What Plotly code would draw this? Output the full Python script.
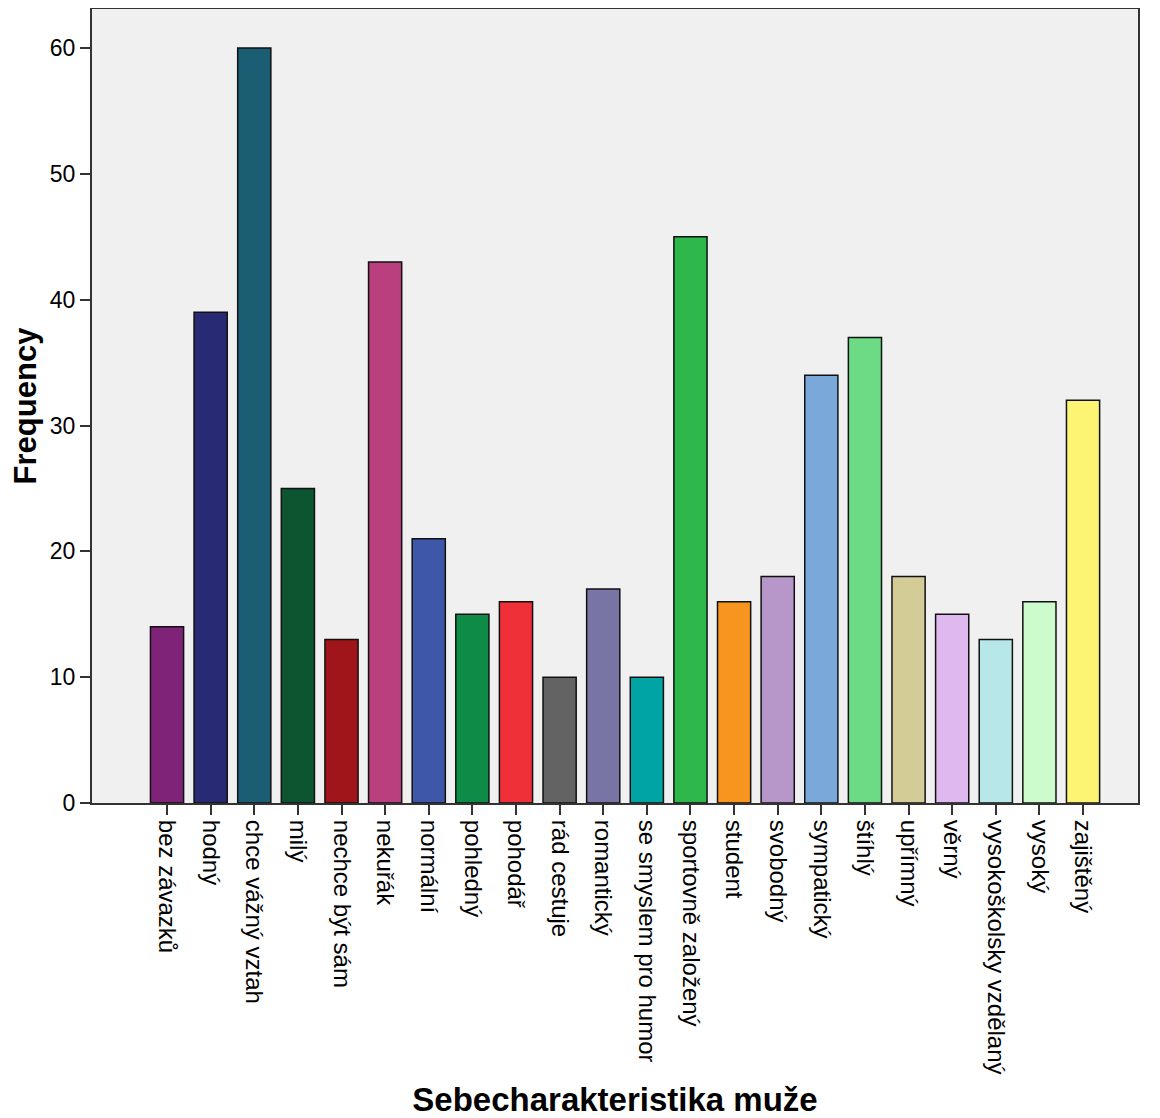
import plotly.graph_objects as go

categories = [
    "bez závazků", "hodný", "chce vážný vztah", "milý", "nechce být sám",
    "nekuřák", "normální", "pohledný", "pohodář", "rád cestuje",
    "romantický", "se smyslem pro humor", "sportovně založený", "student",
    "svobodný", "sympatický", "štíhlý", "upřímný", "věrný",
    "vysokoškolsky vzdělaný", "vysoký", "zajištěný",
]
frequency = [14, 39, 60, 25, 13, 43, 21, 15, 16, 10, 17, 10, 45, 16, 18, 34, 37, 18, 15, 13, 16, 32]
bar_colors = [
    "#7f2379", "#282a74", "#1b5e74", "#0d5530", "#a0151a",
    "#b93f7e", "#3e57a9", "#0f8b48", "#ef3038", "#636363",
    "#7875a5", "#00a4a4", "#2eb74a", "#f7951e", "#b797c9",
    "#7aa8d8", "#6ddb86", "#d3cc96", "#dfb8f0", "#b7e7e8",
    "#ccfccc", "#fbf573",
]
y_ticks = [0, 10, 20, 30, 40, 50, 60]

FONT = "Liberation Sans, Arial, sans-serif"

fig = go.Figure(
    go.Bar(
        x=categories,
        y=frequency,
        marker=dict(color=bar_colors, line=dict(color="#111111", width=1.5)),
        width=0.76,
        hoverinfo="x+y",
    )
)

fig.update_layout(
    width=1152,
    height=1110,
    margin=dict(l=84, r=22, t=1, b=315, autoexpand=False),
    paper_bgcolor="white",
    plot_bgcolor="#f0f0f0",
    showlegend=False,
    font=dict(family=FONT, color="#000000"),
    xaxis=dict(
        type="category",
        range=[-1.72, 22.26],
        tickangle=90,
        tickfont=dict(size=24, family=FONT, color="#000000"),
        ticks="outside",
        ticklen=10,
        tickwidth=2,
        tickcolor="#333333",
        showline=True,
        linecolor="#333333",
        linewidth=2,
        mirror=True,
        showgrid=False,
        automargin=False,
        title=dict(
            text="<b>Sebecharakteristika muže</b>",
            font=dict(size=33, family=FONT, color="#000000"),
            standoff=38,
        ),
    ),
    yaxis=dict(
        range=[0, 63.1],
        tickvals=y_ticks,
        tickfont=dict(size=23, family=FONT, color="#000000"),
        ticks="outside",
        ticklen=10,
        tickwidth=2,
        tickcolor="#333333",
        showline=True,
        linecolor="#333333",
        linewidth=2,
        mirror=True,
        showgrid=False,
        zeroline=False,
        automargin=False,
        title=dict(
            text="<b>Frequency</b>",
            font=dict(size=31, family=FONT, color="#000000"),
            standoff=11,
        ),
    ),
)

fig.write_html("out.html")
